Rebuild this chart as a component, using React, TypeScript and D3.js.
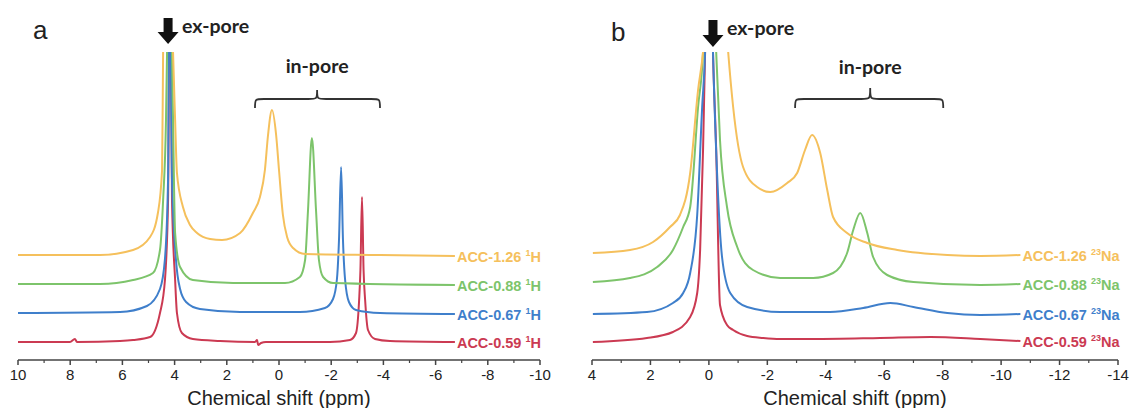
import React from 'react';
import * as d3 from 'd3';

type Pt = [number, number];

// ---------- data (ppm, intensity relative to own baseline, a.u.) ----------
const sampleNames = ['ACC-1.26', 'ACC-0.88', 'ACC-0.67', 'ACC-0.59'];
const seriesColors = ['#F5C05C', '#7DC46B', '#3F7FCB', '#CB3A52'];
const stackOffsets = [87, 58, 29, 0];

const hTicks = [10, 8, 6, 4, 2, 0, -2, -4, -6, -8, -10];
const hMinorTicks = [9, 7, 5, 3, 1, -1, -3, -5, -7, -9];
const naTicks = [4, 2, 0, -2, -4, -6, -8, -10, -12, -14];
const naMinorTicks = [3, 1, -1, -3, -5, -7, -9, -11, -13];

// 1H spectra
const h126: Pt[] = [
  [10, 0], [6.86, 0], [5.59, 5], [4.94, 18], [4.64, 42], [4.48, 85], [4.44, 203], [4.25, 480],
  [4.06, 203], [3.98, 135], [3.91, 82], [3.68, 48], [3.41, 30], [3.14, 22], [2.64, 16], [2.18, 15],
  [1.49, 22], [1.0, 42], [0.73, 58], [0.54, 85], [0.42, 120], [0.27, 145], [0.11, 120], [0.0, 85],
  [-0.15, 40], [-0.31, 18], [-0.54, 7], [-1.0, 1], [-3.87, 0], [-6.74, -1],
];
const h088: Pt[] = [
  [10, 0], [6.86, 0], [5.59, 4], [4.83, 11], [4.56, 34], [4.44, 84], [4.33, 164], [4.29, 230],
  [4.2, 450], [4.1, 230], [4.06, 164], [3.98, 51], [3.79, 17], [3.3, 4], [1.76, 1], [-0.23, 1],
  [-0.8, 7], [-1.0, 24], [-1.11, 73], [-1.26, 146], [-1.42, 73], [-1.53, 24], [-1.69, 7],
  [-2.07, 1], [-6.74, -1],
];
const h067: Pt[] = [
  [10, 0], [6.09, 1], [5.06, 7], [4.56, 24], [4.37, 54], [4.25, 134], [4.19, 380], [4.1, 134],
  [3.95, 54], [3.79, 24], [3.56, 11], [3.03, 4], [1.49, 1], [-0.8, 1], [-1.76, 5], [-2.07, 14],
  [-2.22, 34], [-2.3, 74], [-2.38, 146], [-2.45, 74], [-2.53, 34], [-2.68, 11], [-2.95, 3],
  [-3.87, 0], [-6.74, -1],
];
const h059: Pt[] = [
  [10, 0], [8.01, 0], [7.82, 3], [7.74, 0], [6.09, 1], [5.59, 2], [4.94, 5], [4.56, 29],
  [4.37, 62], [4.25, 142], [4.18, 420], [4.1, 142], [3.98, 62], [3.91, 29], [3.72, 9], [3.3, 3],
  [2.26, 1], [0.92, 0], [0.84, 2], [0.8, -3], [0.69, -1], [0.5, 0], [-1.95, 0], [-2.72, 2],
  [-2.95, 9], [-3.07, 42], [-3.12, 72], [-3.18, 145], [-3.24, 72], [-3.3, 42], [-3.41, 12],
  [-3.68, 3], [-4.25, 1], [-6.74, 0],
];

// 23Na spectra
const na126: Pt[] = [
  [3.97, 2], [2.7, 5], [1.91, 13], [1.33, 28], [0.99, 40], [0.64, 82], [0.37, 165], [0.2, 203],
  [-0.2, 430], [-0.66, 203], [-0.83, 148], [-1.17, 88], [-1.65, 68], [-2.1, 63], [-2.68, 72],
  [-3.02, 82], [-3.29, 105], [-3.53, 120], [-3.81, 102], [-4.05, 65], [-4.25, 38], [-4.73, 22],
  [-5.42, 12], [-6.45, 5], [-8.16, 0], [-9.29, -1], [-10.66, 0],
];
const na088: Pt[] = [
  [3.97, 2], [2.7, 6], [1.77, 17], [1.23, 34], [0.88, 57], [0.64, 77], [0.37, 177], [0.2, 232],
  [0.0, 450], [-0.25, 232], [-0.38, 144], [-0.62, 77], [-0.97, 37], [-1.51, 14], [-2.44, 6],
  [-3.57, 6], [-4.25, 11], [-4.73, 31], [-4.94, 54], [-5.18, 71], [-5.42, 51], [-5.62, 27],
  [-6.1, 9], [-7.0, 2], [-9.29, -1], [-10.66, 0],
];
const na067: Pt[] = [
  [3.97, -1], [2.12, 1], [1.23, 10], [0.88, 20], [0.64, 40], [0.4, 98], [0.23, 206], [0.13, 261],
  [0.0, 450], [-0.14, 261], [-0.28, 140], [-0.45, 56], [-0.73, 20], [-1.31, 6], [-2.44, 1],
  [-4.15, 1], [-5.28, 5], [-6.21, 10], [-7.0, 6], [-8.16, 0], [-9.29, -2], [-10.66, -1],
];
const na059: Pt[] = [
  [3.97, 0], [2.12, 4], [1.23, 10], [0.64, 25], [0.4, 49], [0.3, 92], [0.2, 192], [0.13, 290],
  [0.0, 500], [-0.14, 290], [-0.25, 192], [-0.38, 37], [-0.62, 17], [-0.83, 12], [-1.31, 6],
  [-1.86, 4], [-2.44, 3], [-3.57, 3], [-5.86, 4], [-7.58, 5], [-9.29, 3], [-10.66, 1],
];

// ---------- layout ----------
const W = 1132;
const H = 408;
const AXIS_Y = 360;
const PLOT_TOP = 52;
const BASE_Y = 342;

const yScale = d3.scaleLinear().domain([0, 290]).range([BASE_Y, PLOT_TOP]);

type PanelProps = {
  id: string;
  letter: string;
  letterX: number;
  letterY: number;
  domain: [number, number];
  range: [number, number];
  ticks: number[];
  minor: number[];
  series: Pt[][];
  nucleusSup: string;
  nucleus: string;
  arrowPpm: number;
  arrowTop: number;
  arrowTip: number;
  brace: [number, number, number];
  braceY: [number, number, number];
  inPoreY: number;
  exPoreY: number;
};

const annotFont = 'Lato, "Open Sans", sans-serif';
const axisFont = '"Liberation Sans", Arial, sans-serif';

function Panel(p: PanelProps) {
  const x = d3.scaleLinear().domain(p.domain).range(p.range);
  const line = (off: number) =>
    d3
      .line<Pt>()
      .x((d) => x(d[0]))
      .y((d) => yScale(d[1] + off))
      .curve(d3.curveMonotoneX);

  const ax = x(p.arrowPpm);
  const { arrowTop: y0, arrowTip: y1 } = p;
  const arrowPts = [
    [ax - 4.5, y0], [ax + 4.5, y0], [ax + 4.5, y1 - 12], [ax + 10.5, y1 - 12],
    [ax, y1], [ax - 10.5, y1 - 12], [ax - 4.5, y1 - 12],
  ].map((q) => q.join(',')).join(' ');

  const [b1, bm, b2] = p.brace.map((v) => x(v));
  const [yTip, yLine, yEnd] = p.braceY;
  const r = 9;
  const bracePath = `M${b1},${yEnd} C${b1},${yLine} ${b1},${yLine} ${b1 + r},${yLine} L${bm - r},${yLine} C${bm},${yLine} ${bm},${yLine} ${bm},${yTip} C${bm},${yLine} ${bm},${yLine} ${bm + r},${yLine} L${b2 - r},${yLine} C${b2},${yLine} ${b2},${yLine} ${b2},${yEnd}`;

  const order = [3, 2, 1, 0];

  return (
    <g>
      <defs>
        <clipPath id={p.id}>
          <rect x={p.range[0] - 5} y={PLOT_TOP} width={p.range[1] - p.range[0] + 10} height={AXIS_Y - PLOT_TOP} />
        </clipPath>
      </defs>
      <text x={p.letterX} y={p.letterY} fontFamily={axisFont} fontSize={26} fill="#222">
        {p.letter}
      </text>
      <g clipPath={`url(#${p.id})`}>
        {order.map((i) => (
          <path
            key={i}
            d={line(stackOffsets[i])(p.series[i]) || ''}
            fill="none"
            stroke={seriesColors[i]}
            strokeWidth={2}
            strokeLinejoin="round"
          />
        ))}
      </g>
      {p.series.map((s, i) => {
        const last = s[s.length - 1];
        return (
          <text
            key={i}
            x={x(last[0]) + 2}
            y={yScale(last[1] + stackOffsets[i]) + 5.5}
            fontFamily={axisFont}
            fontWeight="bold"
            fontSize={14.5}
            fill={seriesColors[i]}
          >
            {sampleNames[i] + ' '}
            <tspan fontSize={9} dy={-5.5}>{p.nucleusSup}</tspan>
            <tspan dy={5.5}>{p.nucleus}</tspan>
          </text>
        );
      })}
      {/* axis */}
      <line x1={p.range[0]} x2={p.range[1]} y1={AXIS_Y} y2={AXIS_Y} stroke="#444" strokeWidth={1.5} />
      {p.ticks.map((t) => (
        <g key={'M' + t}>
          <line x1={x(t)} x2={x(t)} y1={AXIS_Y} y2={AXIS_Y + 5} stroke="#444" strokeWidth={1.5} />
          <text x={x(t)} y={380} textAnchor="middle" fontFamily={axisFont} fontSize={15} fill="#222">
            {String(t)}
          </text>
        </g>
      ))}
      {p.minor.map((t) => (
        <line key={'m' + t} x1={x(t)} x2={x(t)} y1={AXIS_Y} y2={AXIS_Y + 3} stroke="#444" strokeWidth={1.2} />
      ))}
      <text
        x={(p.range[0] + p.range[1]) / 2}
        y={405}
        textAnchor="middle"
        fontFamily={axisFont}
        fontSize={20}
        fill="#222"
      >
        Chemical shift (ppm)
      </text>
      {/* annotations */}
      <polygon points={arrowPts} fill="#111" />
      <text x={ax + 14} y={p.exPoreY} fontFamily={annotFont} fontWeight="bold" fontSize={19.5} fill="#222">
        ex-pore
      </text>
      <path d={bracePath} fill="none" stroke="#333" strokeWidth={1.8} />
      <text x={bm} y={p.inPoreY} textAnchor="middle" fontFamily={annotFont} fontWeight="bold" fontSize={19.5} fill="#222">
        in-pore
      </text>
    </g>
  );
}

export default function App() {
  return (
    <svg
      width={W}
      height={H}
      viewBox={`0 0 ${W} ${H}`}
      style={{ position: 'absolute', left: 0, top: 0, background: '#fff' }}
    >
      <rect width={W} height={H} fill="#fff" />
      <Panel
        id="clipA"
        letter="a"
        letterX={33}
        letterY={39}
        domain={[10, -10]}
        range={[18, 540]}
        ticks={hTicks}
        minor={hMinorTicks}
        series={[h126, h088, h067, h059]}
        nucleusSup="1"
        nucleus="H"
        arrowPpm={4.25}
        arrowTop={18}
        arrowTip={44}
        brace={[0.92, -1.46, -3.87]}
        braceY={[90, 99, 108]}
        inPoreY={73}
        exPoreY={33}
      />
      <Panel
        id="clipB"
        letter="b"
        letterX={611}
        letterY={41}
        domain={[4, -14]}
        range={[592, 1118]}
        ticks={naTicks}
        minor={naMinorTicks}
        series={[na126, na088, na067, na059]}
        nucleusSup="23"
        nucleus="Na"
        arrowPpm={-0.14}
        arrowTop={20}
        arrowTip={47}
        brace={[-2.95, -5.52, -8.02]}
        braceY={[88, 99, 108]}
        inPoreY={74}
        exPoreY={35}
      />
    </svg>
  );
}
